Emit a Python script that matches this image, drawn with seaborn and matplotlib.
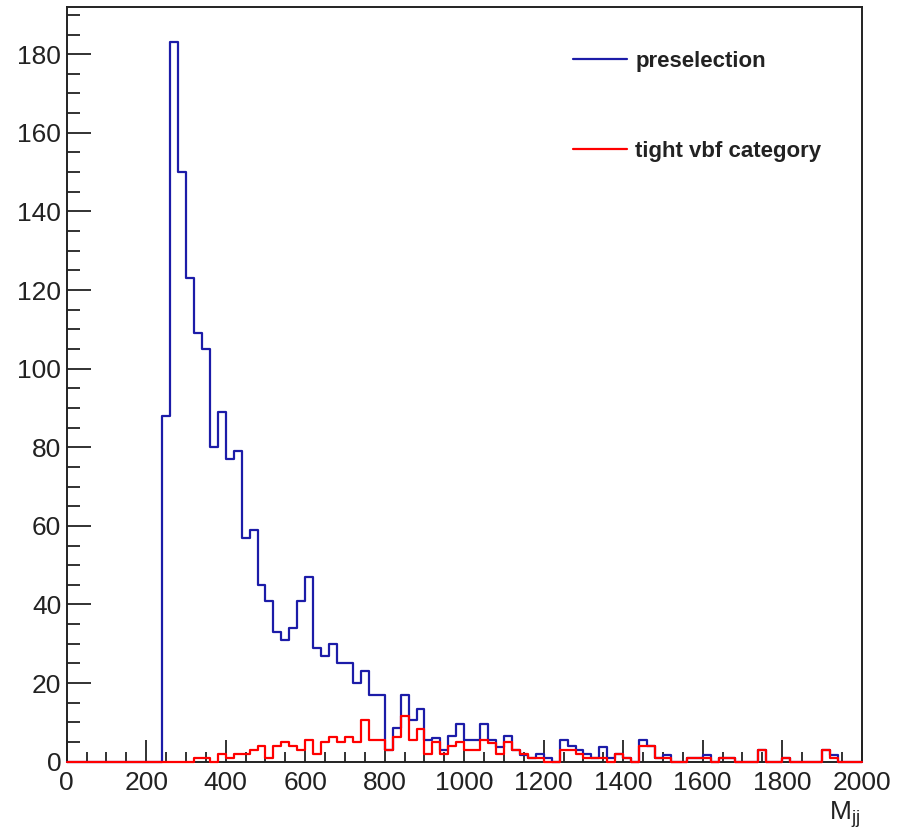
import numpy as np
import pandas as pd
import matplotlib
matplotlib.use("Agg")
import matplotlib.pyplot as plt
from matplotlib.ticker import MultipleLocator
import seaborn as sns

# ---- data (20-unit bins from 0 to 2000) ----
bin_edges = list(range(0, 2020, 20))
preselection = [
    0, 0, 0, 0, 0, 0, 0, 0, 0, 0,          # 0-200
    0, 0, 88, 183, 150, 123, 109, 105, 80, 89,   # 200-400
    77, 79, 57, 59, 45, 41, 33, 31, 34, 41,      # 400-600
    47, 29, 27, 30, 25, 25, 20, 23, 17, 17,      # 600-800
    3, 8.5, 17, 10.5, 13.5, 5.4, 6, 3, 6.5, 9.6, # 800-1000
    5.5, 5.4, 9.5, 5.4, 3.8, 6.5, 3, 1.7, 0.9, 1.9,  # 1000-1200
    0.9, 0, 5.4, 4, 3, 1.9, 0.9, 3.8, 0.9, 1.9,  # 1200-1400
    0.9, 0, 5.4, 4, 1, 1.7, 0, 0, 1, 1,          # 1400-1600
    1.7, 0, 1, 1, 0, 0, 0, 3, 0, 0,              # 1600-1800
    1, 0, 0, 0, 0, 3, 1.7, 0, 0, 0,              # 1800-2000
]
tight_vbf = [
    0, 0, 0, 0, 0, 0, 0, 0, 0, 0,
    0, 0, 0, 0, 0, 0, 1, 1, 0, 2,
    1, 2, 2, 3, 4, 1, 4, 5, 4, 3,
    5.5, 2, 5, 6.4, 5, 6.4, 5, 10.5, 5.4, 5.4,
    3, 6.4, 11.6, 5.4, 8.4, 2, 5, 2, 4, 5,
    3, 3, 5.4, 4.7, 1.9, 4.9, 3, 1.9, 0.9, 0.9,
    0, 0, 3, 3, 1.9, 0.9, 0.9, 0.9, 0, 1.9,
    0.9, 0, 4, 4, 1, 1, 0, 0, 1, 1,
    1, 0, 1, 1, 0, 0, 0, 3, 0, 0,
    1, 0, 0, 0, 0, 3, 1, 0, 0, 0,
]
series_labels = ["preselection", "tight vbf category"]
x_label = r"M$_{\mathregular{jj}}$"

edges = np.array(bin_edges, dtype=float)
centers = (edges[:-1] + edges[1:]) / 2
df = pd.DataFrame({
    "mjj": np.concatenate([centers, centers]),
    "w": np.concatenate([preselection, tight_vbf]).astype(float),
    "sample": [series_labels[0]] * len(centers) + [series_labels[1]] * len(centers),
})

sns.set_style("ticks")
plt.rcParams["font.family"] = ["Liberation Sans", "DejaVu Sans"]
plt.rcParams["mathtext.fontset"] = "custom"
plt.rcParams["mathtext.rm"] = "Liberation Sans"
plt.rcParams["mathtext.it"] = "Liberation Sans"

fig = plt.figure(figsize=(8.98, 8.35), dpi=100)
ax = fig.add_axes([66.7 / 898, (835 - 761.7) / 835, 795 / 898, 754.7 / 835])

colors = {series_labels[0]: "#1c1ca8", series_labels[1]: "#ff0000"}
for lab in series_labels:
    sub = df[df["sample"] == lab].reset_index(drop=True)
    sns.histplot(data=sub, x="mjj", weights="w", bins=bin_edges, element="step",
                 fill=False, color=colors[lab], linewidth=1.6, ax=ax, label=lab)
for i, ln in enumerate(ax.lines):
    ln.set_zorder(3 + i)
    ln.set_clip_on(False)

ax.set_xlim(0, 2000)
ax.set_ylim(0, 192)
ax.set_ylabel("")
ax.set_xlabel("")
ax.text(0.9975, -0.05, x_label, transform=ax.transAxes, ha="right", va="top",
        fontsize=19, color="#222222")

ax.xaxis.set_major_locator(MultipleLocator(200))
ax.xaxis.set_minor_locator(MultipleLocator(50))
ax.yaxis.set_major_locator(MultipleLocator(20))
ax.yaxis.set_minor_locator(MultipleLocator(5))
ax.tick_params(axis="both", which="both", direction="in", top=False, right=False,
               color="#222222", width=1.3, labelsize=19, labelcolor="#222222")
ax.tick_params(axis="y", which="major", length=17.5, pad=4)
ax.tick_params(axis="y", which="minor", length=9)
ax.tick_params(axis="x", which="major", length=16, pad=7)
ax.tick_params(axis="x", which="minor", length=7.5)
for s in ax.spines.values():
    s.set_visible(True)
    s.set_linewidth(1.4)
    s.set_color("#222222")

leg = ax.legend(loc="upper left", bbox_to_anchor=(0.637, 0.942), frameon=False,
                borderaxespad=0, borderpad=0,
                handlelength=2.43, handletextpad=0.36, labelspacing=3.1,
                prop={"weight": "bold", "size": 16})
for t in leg.get_texts():
    t.set_color("#222222")

fig.savefig("out.png", dpi=100)
